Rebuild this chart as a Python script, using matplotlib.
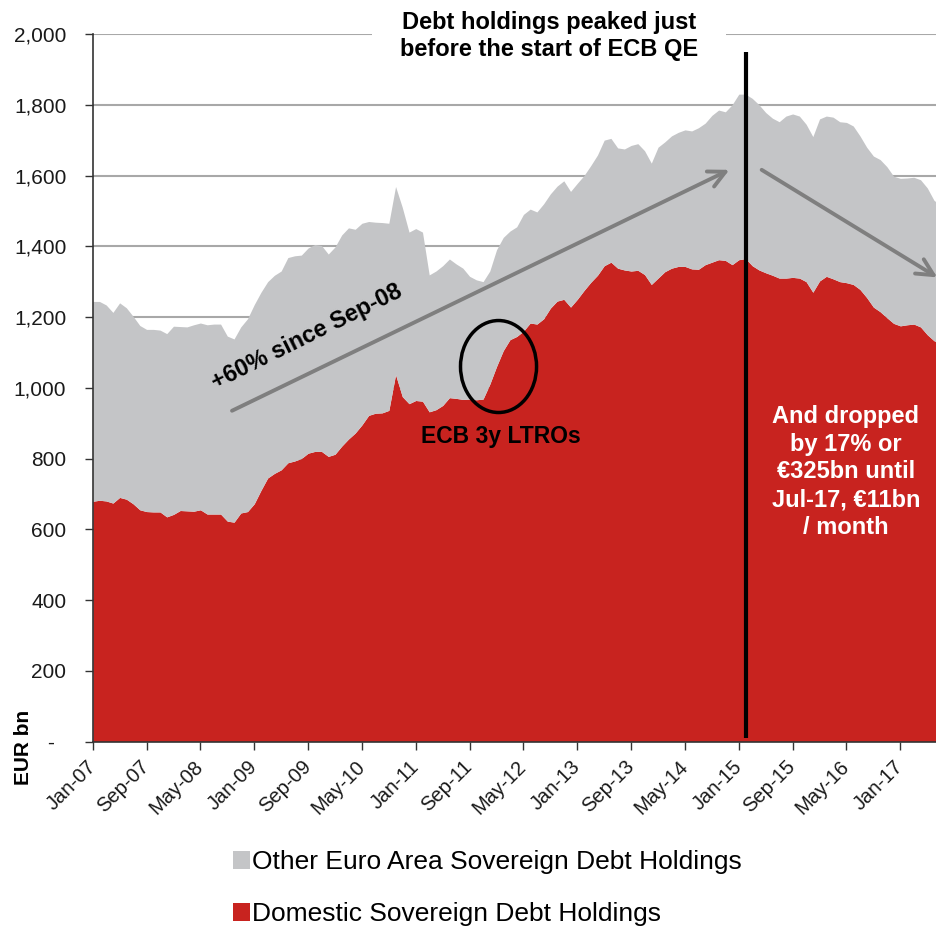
import matplotlib
matplotlib.use("Agg")
import matplotlib.pyplot as plt
from matplotlib.patches import Ellipse, Rectangle
import numpy as np

plt.rcParams['font.family'] = ['Liberation Sans', 'DejaVu Sans']

# ---------------- data (monthly, Jan-07 .. Jul-17, EUR bn) ----------------
months_count = 127
tick_labels = ["Jan-07", "Sep-07", "May-08", "Jan-09", "Sep-09", "May-10", "Jan-11",
               "Sep-11", "May-12", "Jan-13", "Sep-13", "May-14", "Jan-15", "Sep-15",
               "May-16", "Jan-17"]

# top of the stacked area (domestic + other euro area holdings)
total_holdings = [
    1244, 1244, 1234, 1213, 1240, 1226, 1202, 1176, 1165, 1165,
    1163, 1153, 1174, 1173, 1172, 1178, 1183, 1178, 1180, 1180,
    1146, 1138, 1172, 1195, 1235, 1270, 1300, 1318, 1330, 1368,
    1373, 1375, 1395, 1405, 1402, 1378, 1398, 1432, 1452, 1448,
    1465, 1470, 1468, 1467, 1465, 1569, 1510, 1440, 1450, 1440,
    1319, 1330, 1345, 1364, 1350, 1338, 1315, 1305, 1300, 1330,
    1390, 1425, 1443, 1455, 1490, 1505, 1497, 1520, 1548, 1570,
    1585, 1555, 1578, 1600, 1628, 1658, 1700, 1705, 1678, 1675,
    1685, 1690, 1670, 1635, 1680, 1695, 1712, 1722, 1729, 1726,
    1735, 1748, 1770, 1785, 1780, 1800, 1830, 1830, 1818, 1800,
    1778, 1762, 1752, 1768, 1774, 1768, 1745, 1710, 1760, 1768,
    1765, 1752, 1750, 1740, 1712, 1680, 1655, 1645, 1625, 1598,
    1592, 1593, 1595, 1588, 1565, 1530, 1515]

domestic = [
    679, 682, 680, 674, 690, 685, 672, 655, 650, 649,
    649, 635, 642, 653, 652, 651, 655, 643, 643, 643,
    623, 620, 646, 650, 672, 710, 745, 758, 768, 788,
    793, 800, 815, 820, 820, 806, 812, 835, 855, 872,
    895, 922, 928, 929, 936, 1037, 975, 955, 964, 962,
    932, 938, 950, 972, 970, 967, 968, 966, 968, 1010,
    1060, 1105, 1136, 1145, 1160, 1183, 1180, 1195, 1225, 1245,
    1250, 1228, 1250, 1275, 1298, 1318, 1345, 1355, 1338, 1333,
    1330, 1332, 1320, 1292, 1310, 1328, 1338, 1343, 1343, 1336,
    1335, 1348, 1355, 1362, 1360, 1348, 1362, 1365, 1345, 1333,
    1325, 1318, 1310, 1310, 1312, 1310, 1300, 1270, 1302, 1315,
    1308, 1300, 1297, 1292, 1278, 1255, 1228, 1215, 1198, 1182,
    1175, 1178, 1180, 1172, 1150, 1133, 1125]

series_names = ["Other Euro Area Sovereign Debt Holdings", "Domestic Sovereign Debt Holdings"]
y_ticks = [0, 200, 400, 600, 800, 1000, 1200, 1400, 1600, 1800, 2000]
y_tick_labels = ["-  ", "200", "400", "600", "800", "1,000", "1,200", "1,400", "1,600", "1,800", "2,000"]
qe_start = 97  # Feb-15

RED = "#C8231F"
GREY = "#C4C5C7"
ARROW = "#7F7F7F"

W, H = 937, 926
fig = plt.figure(figsize=(W / 100, H / 100), dpi=100)

def fx(px):
    return px / W

def fy(py):
    return 1 - py / H

ax_left, ax_right, ax_top, ax_bottom = 92.7, 937, 34, 741.5
ax = fig.add_axes([fx(ax_left), fy(ax_bottom), fx(ax_right - ax_left), (ax_bottom - ax_top) / H])

x = np.arange(months_count)
ax.fill_between(x, 0, domestic, color=RED, lw=0, zorder=2)
ax.fill_between(x, domestic, total_holdings, color=GREY, lw=0, zorder=2)

ax.set_xlim(0, 125.45)
ax.set_ylim(0, 2000)
ax.set_yticks(y_ticks)
ax.set_yticklabels(y_tick_labels, fontsize=15, color="#1a1a1a")
ax.set_xticks(np.arange(0, 8 * len(tick_labels), 8))
ax.set_xticklabels(tick_labels, fontsize=14.5, rotation=45, ha="right",
                   va="center", rotation_mode="anchor", color="#1a1a1a")
ax.tick_params(axis="y", length=6, width=1, pad=13, color="#333333")
ax.tick_params(axis="x", length=6, width=1, pad=10, color="#333333")
ax.grid(axis="y", color="#A8A8A8", lw=1.5, zorder=0)
ax.set_axisbelow(True)
for s in ["top", "right"]:
    ax.spines[s].set_visible(False)
for s in ["left", "bottom"]:
    ax.spines[s].set_color("#333333")
    ax.spines[s].set_linewidth(1.2)
    ax.spines[s].set_zorder(5)

# QE start line
ax.vlines(qe_start + 0.1, 10, 1950, color="black", lw=3, zorder=6, clip_on=False)

# arrows
ax.annotate("", xy=(94.6, 1616), xytext=(20.7, 935),
            arrowprops=dict(arrowstyle="->", color=ARROW, lw=2.8, mutation_scale=30,
                            shrinkA=0, shrinkB=0), zorder=5)
ax.annotate("", xy=(125.5, 1312), xytext=(99.4, 1616),
            arrowprops=dict(arrowstyle="->", color=ARROW, lw=2.8, mutation_scale=30,
                            shrinkA=0, shrinkB=0), zorder=5, annotation_clip=False)

ax.text(31.8, 1145, "+60% since Sep-08", fontsize=16.8, fontweight="bold", rotation=26.5,
        rotation_mode="anchor", ha="center", va="center", zorder=6)

# LTRO ellipse and label
ax.add_patch(Ellipse((60.3, 1060), 11.3, 260, fill=False, ec="black", lw=2.5, zorder=6))
ax.text(60.7, 862, "ECB 3y LTROs", fontsize=16.5, fontweight="bold", ha="center",
        va="center", zorder=6)

ax.text(111.9, 762, "And dropped\nby 17% or\n€325bn until\nJul-17, €11bn\n/ month",
        fontsize=17, fontweight="bold", color="white", ha="center", va="center",
        multialignment="center", linespacing=1.27, zorder=6)

# title box
fig.text(fx(549), fy(36), "Debt holdings peaked just\nbefore the start of ECB QE",
         fontsize=17, fontweight="bold", ha="center", va="center", linespacing=1.17,
         bbox=dict(boxstyle="square,pad=1.2", fc="white", ec="none"))

# y label
fig.text(fx(23.5), fy(747), "EUR bn", fontsize=15, fontweight="bold", rotation=90,
         ha="center", va="center")

# legend
fig.patches.append(Rectangle((fx(233), fy(869)), 17 / W, 18 / H, transform=fig.transFigure,
                             color=GREY, lw=0))
fig.text(fx(252), fy(869), series_names[0], fontsize=19, ha="left", va="baseline")
fig.patches.append(Rectangle((fx(233), fy(921)), 17 / W, 18 / H, transform=fig.transFigure,
                             color=RED, lw=0))
fig.text(fx(252), fy(921), series_names[1], fontsize=19, ha="left", va="baseline")

fig.savefig("out.png", dpi=100)
